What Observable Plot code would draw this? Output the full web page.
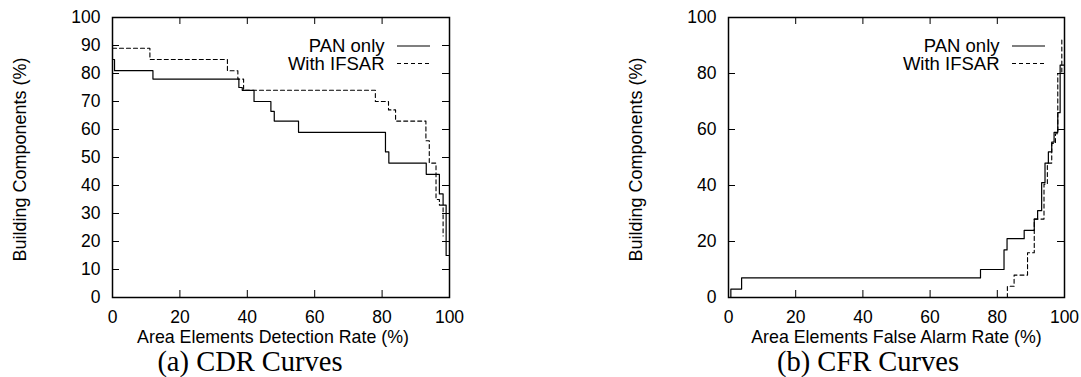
<!DOCTYPE html>
<html><head><meta charset="utf-8">
<script src="https://cdn.jsdelivr.net/npm/d3@7"></script>
<script src="https://cdn.jsdelivr.net/npm/@observablehq/plot@0.6"></script>
<style>
html,body{margin:0;padding:0;background:#fff}
body{width:1081px;height:377px;overflow:hidden;position:relative;font-family:"Liberation Sans",Arial,sans-serif}
.panel{position:absolute;top:0}
.cap{position:absolute;font-family:"Liberation Serif","Times New Roman",serif;font-size:28.5px;line-height:1;white-space:nowrap;transform:translateX(-50%);color:#000}
</style></head><body>
<div id="a" class="panel" style="left:0"></div>
<div id="b" class="panel" style="left:616px"></div>
<div class="cap" style="left:250px;top:348px">(a) CDR Curves</div>
<div class="cap" style="left:868px;top:348px">(b) CFR Curves</div>
<script>
const seriesNames = ["PAN only", "With IFSAR"];
const yLabelText = "Building Components (%)";
const xLabelA = "Area Elements Detection Rate (%)";
const xLabelB = "Area Elements False Alarm Rate (%)";
const xTicks = [0, 20, 40, 60, 80, 100];
const yTicksA = [0, 10, 20, 30, 40, 50, 60, 70, 80, 90, 100];
const yTicksB = [0, 20, 40, 60, 80, 100];

// (a) CDR curves
const cdrPanX = [0, 0.6, 12, 37.5, 38.5, 42, 47, 48, 55.2, 81, 82, 93.1, 97, 98.1, 99, 100];
const cdrPanY = [85, 81, 78, 75, 74, 70, 66.5, 63, 59, 52, 48, 44, 37, 33, 15, 15];
const cdrIfsarX = [0, 11.1, 34.1, 37.2, 38.9, 78, 81.9, 84, 93, 94, 96, 97, 98.1];
const cdrIfsarY = [89, 85, 81, 78, 74, 70, 67, 63, 56, 48, 35, 33, 22];

// (b) CFR curves
const cfrPanX = [0.7, 0.7, 3.9, 75, 82, 82.9, 88, 91, 92, 93.2, 94.2, 95.2, 96.2, 96.9, 98, 98.7, 100];
const cfrPanY = [0, 3, 7, 10, 17, 21, 24, 28, 31, 41, 48, 52, 55.5, 59, 66, 83, 83];
const cfrIfsarX = [83, 83, 85, 89, 91, 93.9, 94.9, 96.2, 97.3, 98, 99.2];
const cfrIfsarY = [0, 4, 8, 16, 28, 40.5, 48, 55, 58.5, 80, 92];

const zip = (xs, ys) => xs.map((x, i) => ({x, y: ys[i]}));

function panel(el, o) {
  const mT = 17, plotH = 280, mB = 53;
  const H = mT + plotH + mB;
  const pw = o.W - o.mL - o.mR;
  const chart = Plot.plot({
    width: o.W, height: H,
    marginLeft: o.mL, marginRight: o.mR, marginTop: mT, marginBottom: mB,
    style: {fontFamily: "Liberation Sans, Arial, sans-serif", fontSize: "17.5px", color: "black", background: "white", overflow: "visible"},
    x: {domain: [0, 100], ticks: xTicks, tickSize: 0, tickPadding: 13.5, label: null},
    y: {domain: [0, 100], ticks: o.yTicks, tickSize: 0, tickPadding: 12, label: null},
    marks: [
      Plot.tickX(xTicks, {x: d => d, insetTop: plotH - 7, stroke: "black"}),
      Plot.tickX(xTicks, {x: d => d, insetBottom: plotH - 7, stroke: "black"}),
      Plot.tickY(o.yTicks, {y: d => d, insetRight: pw - 7, stroke: "black"}),
      Plot.tickY(o.yTicks, {y: d => d, insetLeft: pw - 7, stroke: "black"}),
      Plot.line(o.pan, {x: "x", y: "y", curve: "step-after", stroke: "black", strokeWidth: 1.2}),
      Plot.line(o.ifsar, {x: "x", y: "y", curve: "step-after", stroke: "black", strokeWidth: 1.1, strokeDasharray: "4,3"}),
      Plot.frame({stroke: "black", strokeWidth: 1.5}),
      Plot.text([o.xLabel], {frameAnchor: "bottom", dx: o.xLabelDx, dy: 40, textAnchor: "middle", lineAnchor: "middle", text: d => d, fontSize: 17.8, fill: "black"}),
      Plot.text([yLabelText], {frameAnchor: "left", dx: 20 - o.mL, dy: 2, rotate: -90, textAnchor: "middle", lineAnchor: "middle", text: d => d, fontSize: 18, fill: "black"}),
      Plot.text([seriesNames[0]], {frameAnchor: "top-right", dx: -65, dy: 29, textAnchor: "end", lineAnchor: "middle", text: d => d, fontSize: 18.5, fill: "black"}),
      Plot.text([seriesNames[1]], {frameAnchor: "top-right", dx: -65, dy: 46.5, textAnchor: "end", lineAnchor: "middle", text: d => d, fontSize: 18.5, fill: "black"})
    ]
  });
  const svg = d3.select(chart);
  const xR = o.W - o.mR;
  svg.append("line").attr("x1", xR - 52).attr("x2", xR - 19).attr("y1", mT + 29).attr("y2", mT + 29)
    .attr("stroke", "black").attr("stroke-width", 1.2);
  svg.append("line").attr("x1", xR - 52).attr("x2", xR - 19).attr("y1", mT + 46.5).attr("y2", mT + 46.5)
    .attr("stroke", "black").attr("stroke-width", 1.1).attr("stroke-dasharray", "4,3");
  document.getElementById(el).appendChild(chart);
}

panel("a", {W: 470, mL: 112, mR: 21, yTicks: yTicksA, xLabelDx: -8, pan: zip(cdrPanX, cdrPanY), ifsar: zip(cdrIfsarX, cdrIfsarY), xLabel: xLabelA});
panel("b", {W: 465, mL: 112, mR: 17, yTicks: yTicksB, xLabelDx: 0, pan: zip(cfrPanX, cfrPanY), ifsar: zip(cfrIfsarX, cfrIfsarY), xLabel: xLabelB});
</script>
</body></html>
